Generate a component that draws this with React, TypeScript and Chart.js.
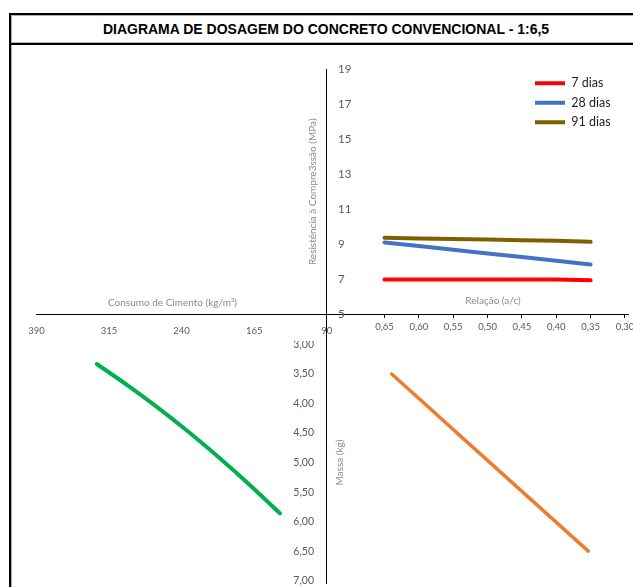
import React, { useEffect, useRef } from "react";
import { Chart, registerables } from "chart.js";

Chart.register(...registerables);

// ---------- data ----------
const chartTitle = "DIAGRAMA DE DOSAGEM DO CONCRETO CONVENCIONAL - 1:6,5";

const relacaoAC = [0.65, 0.6, 0.55, 0.5, 0.45, 0.4, 0.35];
const resist7 = [6.97, 6.97, 6.97, 6.97, 6.97, 6.97, 6.93];
const resist28 = [9.1, 8.89, 8.68, 8.47, 8.26, 8.05, 7.84];
const resist91 = [9.36, 9.33, 9.3, 9.27, 9.23, 9.19, 9.13];
const massaAC = [3.5, 4.0, 4.5, 5.0, 5.5, 6.0, 6.5];
const consumoCimento = [327.7, 296.1, 264.6, 233.0, 201.4, 169.8, 138.3];
const massaConsumo = [3.33, 3.688, 4.07, 4.478, 4.914, 5.374, 5.86];

const serieNomes = ["7 dias", "28 dias", "91 dias"];
const serieCores = ["#FF0000", "#4472C4", "#7F6000"];
const corConsumo = "#00B050";
const corAC = "#ED7D31";

const ticksAC = [0.65, 0.6, 0.55, 0.5, 0.45, 0.4, 0.35, 0.3];
const ticksResist = [5, 7, 9, 11, 13, 15, 17, 19];
const ticksConsumo = [390, 315, 240, 165, 90];
const ticksMassa = [3, 3.5, 4, 4.5, 5, 5.5, 6, 6.5, 7];

const tituloConsumo = "Consumo de Cimento (kg/m³)";
const tituloRelacao = "Relação (a/c)";
const tituloResist = "Resistência à Compre3ssão (MPa)";
const tituloMassa = "Massa (kg)";

// ---------- helpers ----------
const FONT = "Lato, 'Open Sans', sans-serif";
const TICK = "#595959";
const TITLE = "#8a8a8a";
const AXIS = "#000000";

const comma = (v: number, d: number) => Number(v).toFixed(d).replace(".", ",");
const fixedTicks = (vals: number[]) => (scale: any) => {
  scale.ticks = [...vals].sort((a, b) => a - b).map((value) => ({ value }));
};
const fixW = (w: number) => (scale: any) => {
  scale.width = w;
};
const fixH = (h: number) => (scale: any) => {
  scale.height = h;
};
const pts = (xs: number[], ys: number[]) => xs.map((x, i) => ({ x, y: ys[i] }));

const base = (padding: any) => ({
  responsive: false,
  maintainAspectRatio: false,
  animation: false,
  events: [],
  layout: { padding },
  plugins: { legend: { display: false }, tooltip: { enabled: false } },
});

const lineDs = (label: string, data: any[], color: string, width: number, smooth = false) => ({
  label,
  data,
  showLine: true,
  borderColor: color,
  backgroundColor: color,
  borderWidth: width,
  pointRadius: 0,
  tension: smooth ? 0.4 : 0,
  cubicInterpolationMode: smooth ? "monotone" : "default",
  borderCapStyle: "round",
  borderJoinStyle: "round",
});

// ---------- chart configs (positions in page px) ----------
// Top-right: resistance vs a/c (canvas 300,50 345x300)
const cfgTopRight = () => ({
  type: "scatter",
  data: {
    datasets: [resist7, resist28, resist91].map((s, i) =>
      lineDs(serieNomes[i], pts(relacaoAC, s), serieCores[i], 4)
    ),
  },
  options: {
    ...base({ left: 6.7, top: 19.5, right: 17, bottom: 0 }),
    scales: {
      x: {
        type: "linear",
        position: "bottom",
        reverse: true,
        min: 0.29563,
        max: 0.73412,
        afterBuildTicks: fixedTicks(ticksAC),
        afterFit: fixH(36),
        ticks: {
          autoSkip: false,
          maxRotation: 0,
          padding: 3.5,
          color: TICK,
          font: { family: FONT, size: 9.5 },
          callback: (v: number) => comma(v, 2),
        },
        grid: { display: true, drawOnChartArea: false, drawTicks: true, tickLength: 4, color: AXIS, lineWidth: 1 },
        border: { display: true, color: AXIS, width: 1 },
      },
      y: {
        type: "linear",
        position: "left",
        min: 5,
        max: 19,
        afterBuildTicks: fixedTicks(ticksResist),
        afterFit: fixW(20),
        ticks: { mirror: true, padding: 11.3, color: TICK, autoSkip: false, font: { family: FONT, size: 11.5 } },
        grid: { display: false },
        border: { display: true, color: AXIS, width: 1 },
        title: {
          display: true,
          text: tituloResist,
          color: TITLE,
          font: { family: FONT, size: 10 },
          padding: { top: 0.3, bottom: 0 },
        },
      },
    },
  },
});

// Legend (canvas 528,70)
const cfgLegend = () => ({
  type: "scatter",
  data: {
    datasets: serieNomes.map((n, i) => ({
      label: n,
      data: [],
      borderColor: serieCores[i],
      backgroundColor: serieCores[i],
      borderWidth: 0,
    })),
  },
  options: {
    ...base(0),
    plugins: {
      tooltip: { enabled: false },
      legend: {
        display: true,
        position: "left",
        align: "start",
        maxWidth: 200,
        labels: {
          boxWidth: 30,
          boxHeight: 4,
          padding: 7,
          color: "#1f1f1f",
          font: { family: FONT, size: 12.5 },
        },
      },
    },
    scales: { x: { display: false }, y: { display: false } },
  },
});

// Top-left: consumption axis (canvas 0,300 345x45)
const cfgTopLeft = () => ({
  type: "scatter",
  data: { datasets: [] },
  options: {
    ...base({ left: 36.5, right: 18.3, top: 0, bottom: 0 }),
    scales: {
      x: {
        type: "linear",
        position: "bottom",
        reverse: true,
        min: 90,
        max: 390,
        afterBuildTicks: fixedTicks(ticksConsumo),
        afterFit: fixH(31),
        ticks: { autoSkip: false, maxRotation: 0, padding: 11.5, color: TICK, font: { family: FONT, size: 9.5 } },
        grid: { display: false, drawTicks: false },
        border: { display: true, color: AXIS, width: 1 },
      },
      y: { display: false },
    },
  },
});

// Bottom-left: consumption vs mass (canvas 0,280 360x313)
const cfgBottomLeft = () => ({
  type: "scatter",
  data: { datasets: [lineDs("Consumo", pts(consumoCimento, massaConsumo), corConsumo, 4, true)] },
  options: {
    ...base({ left: 18.3, right: 23.3, top: 16.3, bottom: 10 }),
    scales: {
      x: {
        type: "linear",
        position: "top",
        reverse: true,
        min: 90,
        max: 408.8,
        afterFit: fixH(17.7),
        ticks: { display: false },
        grid: { display: false },
        border: { display: false },
        title: { display: true, text: tituloConsumo, color: TITLE, font: { family: FONT, size: 10 }, padding: 0 },
      },
      y: {
        type: "linear",
        position: "right",
        reverse: true,
        min: 2.4835,
        max: 7.039,
        afterBuildTicks: fixedTicks(ticksMassa),
        afterFit: fixW(10),
        ticks: {
          mirror: true,
          padding: -12.7,
          autoSkip: false,
          color: TICK,
          font: { family: FONT, size: 10.5 },
          callback: (v: number) => comma(v, 2),
        },
        grid: { display: false },
        border: { display: true, color: AXIS, width: 1 },
      },
    },
  },
});

// Bottom-right: a/c vs mass (canvas 320,280 330x310)
const cfgBottomRight = () => ({
  type: "scatter",
  data: { datasets: [lineDs("Massa", pts(relacaoAC, massaAC), corAC, 3.5)] },
  options: {
    ...base({ left: 13.3, right: 22, top: 14.5, bottom: 9.3 }),
    scales: {
      x: {
        type: "linear",
        position: "top",
        reverse: true,
        min: 0.2894,
        max: 0.7014,
        afterFit: fixH(50),
        ticks: { display: false },
        grid: { display: false },
        border: { display: false },
        title: { display: true, text: tituloRelacao, color: TITLE, font: { family: FONT, size: 10 }, padding: 0 },
      },
      y: {
        type: "linear",
        position: "left",
        reverse: true,
        min: 3,
        max: 7,
        afterFit: fixW(24.7),
        ticks: { display: false },
        grid: { display: false },
        border: { display: false },
        title: { display: true, text: tituloMassa, color: TITLE, font: { family: FONT, size: 10 }, padding: 0 },
      },
    },
  },
});

function ChartCanvas(props: { left: number; top: number; width: number; height: number; z: number; config: () => any }) {
  const ref = useRef<HTMLCanvasElement>(null);
  useEffect(() => {
    const chart = new Chart(ref.current as HTMLCanvasElement, props.config() as any);
    return () => chart.destroy();
  }, []);
  return (
    <canvas
      ref={ref}
      width={props.width}
      height={props.height}
      style={{
        position: "absolute",
        left: props.left,
        top: props.top,
        width: props.width,
        height: props.height,
        zIndex: props.z,
      }}
    />
  );
}

export default function App() {
  return (
    <div
      style={{
        position: "fixed",
        left: 0,
        top: 0,
        width: 633,
        height: 587,
        overflow: "hidden",
        background: "#fff",
      }}
    >
      <div
        style={{
          position: "absolute",
          left: 9,
          top: 13,
          width: 640,
          height: 620,
          border: "2px solid #000",
          boxSizing: "border-box",
          boxShadow: "inset 1px 1px 0 #b0b0b0",
        }}
      />
      <div
        style={{
          position: "absolute",
          left: 11,
          top: 15,
          width: 630,
          height: 28,
          borderBottom: "2px solid #000",
          boxShadow: "inset 0 -1px 0 #b0b0b0",
          display: "flex",
          alignItems: "center",
          justifyContent: "center",
          font: "bold 14px 'Liberation Sans Narrow', 'Liberation Sans', Arial, sans-serif",
          color: "#000",
          whiteSpace: "nowrap",
        }}
      >
        {chartTitle}
      </div>
      <ChartCanvas left={0} top={280} width={360} height={313} z={1} config={cfgBottomLeft} />
      <div style={{ position: "absolute", left: 285, top: 315, width: 40.5, height: 26, background: "#fff", zIndex: 2 }} />
      <ChartCanvas left={0} top={300} width={345} height={45} z={3} config={cfgTopLeft} />
      <ChartCanvas left={320} top={280} width={330} height={310} z={3} config={cfgBottomRight} />
      <ChartCanvas left={300} top={50} width={345} height={300} z={4} config={cfgTopRight} />
      <ChartCanvas left={528} top={70} width={260} height={80} z={5} config={cfgLegend} />
    </div>
  );
}
